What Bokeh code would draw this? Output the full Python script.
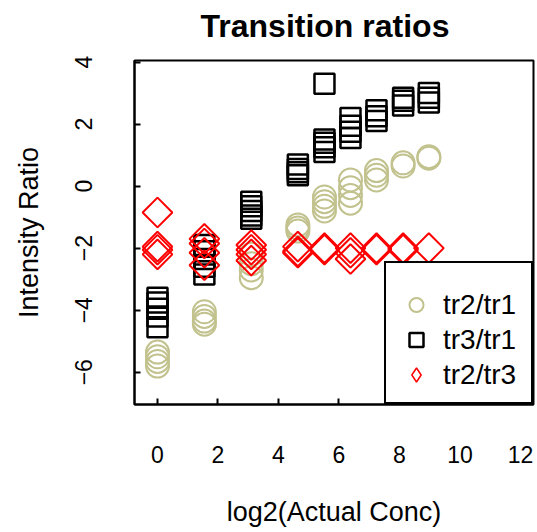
import numpy as np
from bokeh.plotting import figure
from bokeh.models import Range1d, FixedTicker, Legend, LegendItem, ColumnDataSource, Title
from bokeh.transform import dodge
from bokeh.embed import file_html
from bokeh.resources import INLINE

# ---- data ----
conc_log2 = [0, 1.55, 3.1, 4.64, 5.52, 6.38, 7.24, 8.12, 8.97]

tr2_tr1 = [
    [-5.35, -5.5, -5.65, -5.8],
    [-4.05, -4.2, -4.35, -4.45],
    [-2.2, -2.5, -2.7, -2.95],
    [-1.25, -1.35, -1.45],
    [-0.35, -0.5, -0.65, -0.8],
    [0.2, -0.05, -0.3, -0.55],
    [0.5, 0.35, 0.2],
    [0.75, 0.65],
    [0.95, 0.9],
]

tr3_tr1 = [
    [-3.6, -3.75, -3.95, -4.2, -4.55],
    [-1.9, -2.1, -2.35, -2.6, -2.85],
    [-0.5, -0.65, -0.8, -0.95, -1.05],
    [0.35, 0.45, 0.55, 0.7],
    [3.3, 1.1, 1.25, 1.4, 1.5],
    [1.55, 1.75, 1.95, 2.2],
    [2.1, 2.25, 2.45],
    [2.6, 2.75, 2.85],
    [2.7, 2.85, 3.0],
]

tr2_tr3 = [
    [-0.85, -1.95, -2.05, -2.2],
    [-1.7, -1.85, -2.15, -2.55],
    [-1.9, -2.05, -2.2, -2.4],
    [-1.95, -2.1, -2.15],
    [-2.0, -2.05],
    [-2.0, -2.15, -2.35],
    [-2.0, -2.05],
    [-2.0, -2.05],
    [-2.0],
]

series_names = ["tr2/tr1", "tr3/tr1", "tr2/tr3"]
x_ticks = [0, 2, 4, 6, 8, 10, 12]
y_ticks = [-6, -4, -2, 0, 2, 4]


def flatten(groups):
    xs, ys = [], []
    for xv, vals in zip(conc_log2, groups):
        for v in vals:
            xs.append(xv)
            ys.append(v)
    return ColumnDataSource(dict(x=xs, y=ys))


FONT = "Liberation Sans"
KHAKI = "#c2c28e"

p = figure(width=537, height=532, output_backend="svg", toolbar_location=None,
           x_range=Range1d(-0.76, 12.43), y_range=Range1d(-7.04, 4.05),
           min_border_left=134, min_border_right=4, min_border_top=60,
           min_border_bottom=128,
           x_axis_label="log2(Actual Conc)", y_axis_label="Intensity Ratio",
           title="Transition ratios")

p.grid.visible = False
p.outline_line_color = "black"
p.outline_line_width = 2
p.background_fill_color = "white"
p.border_fill_color = "white"

# small blank gap between the plot frame and the main title
p.add_layout(Title(text=" ", text_font_size="8px", standoff=4), "above")

p.title.text_font = FONT
p.title.text_font_size = "32px"
p.title.text_font_style = "bold"
p.title.text_color = "black"
p.title.align = "left"
p.title.offset = 66
p.title.vertical_align = "top"
p.title.standoff = 0

for ax in (p.xaxis[0], p.yaxis[0]):
    ax.axis_line_width = 2
    ax.major_tick_in = 6
    ax.major_tick_out = 0
    ax.major_tick_line_width = 2
    ax.minor_tick_line_color = None
    ax.major_label_text_font = FONT
    ax.major_label_text_font_size = "23px"
    ax.major_label_text_color = "black"
    ax.axis_label_text_font = FONT
    ax.axis_label_text_font_size = "27px"
    ax.axis_label_text_font_style = "normal"
    ax.axis_label_text_color = "black"

p.xaxis.ticker = FixedTicker(ticks=x_ticks)
p.yaxis.ticker = FixedTicker(ticks=y_ticks)
p.xaxis.major_label_standoff = 41
p.xaxis.axis_label_standoff = 31
p.yaxis.major_label_standoff = 42
p.yaxis.major_label_orientation = "vertical"
p.yaxis.axis_label_standoff = 29

r1 = p.scatter("x", "y", source=flatten(tr2_tr1), marker="circle", size=23,
               fill_color=None, line_color=KHAKI, line_width=2)
r2 = p.scatter("x", "y", source=flatten(tr3_tr1), marker="square", size=20,
               fill_color=None, line_color="black", line_width=2.5)
src3 = flatten(tr2_tr3)
r3 = p.scatter("x", "y", source=src3, marker="square", size=21,
               angle=np.pi / 4, fill_color=None, line_color="red", line_width=2)
# legend-only glyph for the diamond series (legend glyphs are never rotated);
# its points are shifted out of the visible range so only the key shows it
r3_leg = p.scatter(dodge("x", 100), "y", source=src3,
                   marker="diamond", size=21, fill_color=None,
                   line_color="red", line_width=1.5)

legend = Legend(items=[LegendItem(label=series_names[0], renderers=[r1]),
                       LegendItem(label=series_names[1], renderers=[r2]),
                       LegendItem(label=series_names[2], renderers=[r3_leg])],
                location="bottom_right", margin=0, padding=10, spacing=0,
                glyph_width=40, glyph_height=35, label_height=35,
                label_width=78, label_standoff=7,
                label_text_font=FONT, label_text_font_size="28px",
                label_text_color="black",
                border_line_color="black", border_line_width=2,
                border_line_alpha=1,
                background_fill_color="white", background_fill_alpha=1,
                title=" ", title_text_font_size="12px", title_standoff=0)
p.add_layout(legend)

open("out.html", "w").write(file_html(p, INLINE))
